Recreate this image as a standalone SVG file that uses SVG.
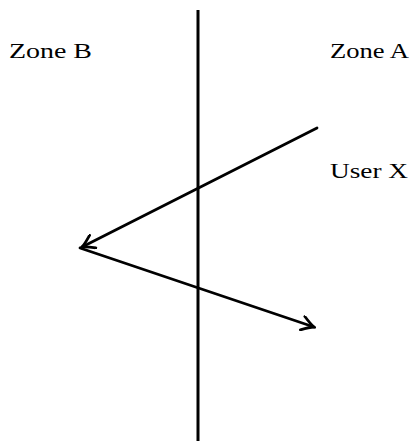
<svg xmlns="http://www.w3.org/2000/svg" width="412" height="445" viewBox="0 0 412 445">
<style>
.lbl{font-family:"Liberation Serif","DejaVu Serif",serif;font-size:22px;fill:#000}
.ln{stroke:#000;stroke-width:3;fill:none}
.ar{stroke:#000;stroke-width:2.8;fill:none;stroke-linecap:round;stroke-linejoin:round}
</style>
<defs>
<marker id="ah" viewBox="-14 -8 16 16" markerWidth="16" markerHeight="16" refX="0" refY="0" orient="auto" markerUnits="userSpaceOnUse">
<path d="M-12,-7 Q-4,-1.5 0,0 Q-4,1.5 -12,7" fill="none" stroke="#000" stroke-width="2.8" stroke-linecap="round"/>
</marker>
</defs>
<g id="boundary"><line class="ln" x1="198" y1="10" x2="198" y2="441"/></g>
<g id="zoneB"><text class="lbl" x="9" y="58" textLength="83" lengthAdjust="spacingAndGlyphs">Zone B</text></g>
<g id="zoneA"><text class="lbl" x="330" y="58" textLength="79" lengthAdjust="spacingAndGlyphs">Zone A</text></g>
<g id="userX"><text class="lbl" x="330" y="178" textLength="78" lengthAdjust="spacingAndGlyphs">User X</text></g>
<g id="connectors">
<line class="ar" x1="317" y1="128" x2="82" y2="247" marker-end="url(#ah)"/>
<line class="ar" x1="80" y1="248" x2="314" y2="327" marker-end="url(#ah)"/>
</g>
</svg>
